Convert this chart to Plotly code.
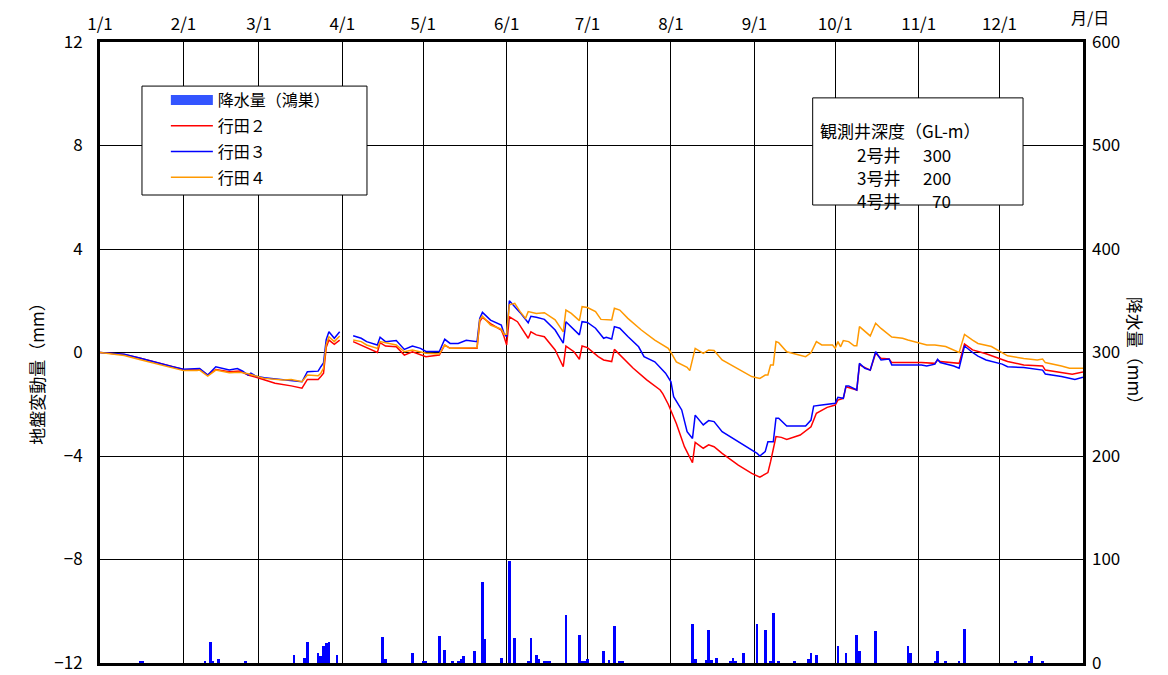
import plotly.graph_objects as go

# day of year (0 = 1/1); None marks the break in the record around 4/1
red_days = [0, 5, 9, 15, 21, 27, 31, 36, 37, 40, 43, 48, 52, 55, 58, 61, 65, 71, 75, 77,
            81, 82, 83, 84, 85, 87, 89, None, 94, 97, 99, 103, 104, 106, 110, 113, 116,
            121, 126, 128, 130, 140, 141, 142, 145, 149, 150, 151, 152, 155, 159, 160,
            162, 165, 169, 172, 173, 176, 178, 179, 181, 185, 187, 190, 191, 193, 198,
            203, 208, 209, 211, 214, 217, 220, 221, 224, 226, 228, 231, 237, 242, 245,
            248, 249, 251, 253, 255, 260, 264, 266, 270, 273, 274, 276, 277, 281, 282,
            286, 288, 290, 293, 294, 305, 310, 311, 312, 319, 321, 324, 329, 335, 337,
            343, 350, 351, 357, 361, 365]
red_vals = [0.0, -0.05, -0.08, -0.22, -0.40, -0.55, -0.66, -0.68, -0.64, -0.87, -0.66,
            -0.74, -0.72, -0.87, -0.96, -1.06, -1.19, -1.29, -1.38, -1.04, -1.04, -0.93,
            -0.8, 0.2, 0.48, 0.32, 0.48, None, 0.42, 0.29, 0.2, 0.0, 0.38, 0.25, 0.22,
            -0.10, 0.03, -0.16, -0.10, 0.29, 0.16, 0.16, 1.19, 1.36, 1.12, 0.87, 0.62,
            0.29, 1.38, 1.19, 0.55, 0.80, 0.68, 0.61, 0.10, -0.55, 0.25, 0.03, -0.26,
            0.25, 0.19, -0.16, -0.29, -0.35, 0.12, -0.10, -0.61, -1.06, -1.45, -1.6,
            -2.0, -2.74, -3.64, -4.26, -3.47, -3.70, -3.57, -3.64, -3.90, -4.35, -4.67,
            -4.82, -4.64, -4.22, -3.25, -3.28, -3.36, -3.19, -2.87, -2.35, -2.12, -2.03,
            -1.84, -1.77, -1.32, -1.45, -0.48, -0.68, -0.03, -0.22, -0.25, -0.39, -0.39,
            -0.42, -0.29, -0.35, -0.42, 0.33, 0.10, -0.05, -0.29, -0.35, -0.48, -0.52,
            -0.68, -0.78, -0.84, -0.75]

blue_days = [0, 5, 9, 15, 21, 27, 31, 36, 37, 40, 43, 48, 51, 53, 55, 56, 58, 61, 68, 75,
             77, 81, 82, 83, 84, 85, 87, 89, None, 94, 97, 99, 103, 104, 106, 110, 113,
             116, 119, 121, 126, 128, 130, 133, 136, 140, 141, 142, 145, 149, 150, 151,
             152, 154, 156, 159, 160, 162, 165, 169, 172, 173, 175, 178, 179, 181, 184,
             187, 188, 190, 191, 193, 196, 200, 202, 206, 210, 212, 213, 216, 218, 220,
             221, 224, 226, 228, 231, 237, 241, 244, 245, 247, 248, 250, 251, 252, 255,
             262, 264, 265, 268, 273, 274, 276, 277, 278, 281, 282, 284, 286, 288, 290,
             293, 294, 305, 307, 310, 311, 312, 317, 319, 321, 324, 326, 329, 335, 337,
             343, 350, 351, 357, 362, 365]
blue_vals = [0.0, -0.03, -0.07, -0.22, -0.40, -0.55, -0.65, -0.61, -0.62, -0.87, -0.55,
             -0.68, -0.62, -0.72, -0.87, -0.80, -0.92, -0.98, -1.05, -1.13, -0.74, -0.72,
             -0.55, -0.40, 0.5, 0.80, 0.55, 0.80, None, 0.65, 0.55, 0.42, 0.29, 0.59,
             0.42, 0.46, 0.12, 0.25, 0.16, 0.04, 0.04, 0.51, 0.35, 0.35, 0.47, 0.42,
             1.32, 1.55, 1.25, 1.06, 0.74, 0.61, 2.0, 1.77, 1.54, 1.15, 1.40, 1.36,
             1.28, 0.87, 0.36, 1.19, 1.0, 0.68, 1.19, 1.16, 0.94, 0.55, 0.59, 0.52, 1.0,
             0.94, 0.62, 0.22, -0.16, -0.36, -0.80, -1.13, -1.71, -2.22, -3.06, -3.32,
             -2.42, -2.80, -2.63, -2.67, -3.06, -3.45, -3.70, -3.90, -4.0, -3.83, -3.45,
             -3.45, -2.54, -2.54, -2.84, -2.84, -2.61, -2.07, -2.03, -1.96, -1.73, -1.77,
             -1.29, -1.29, -1.45, -0.42, -0.61, -0.68, 0.03, -0.29, -0.25, -0.48, -0.48,
             -0.52, -0.45, -0.26, -0.39, -0.52, -0.61, 0.25, 0.0, -0.14, -0.29, -0.45,
             -0.55, -0.58, -0.68, -0.83, -0.93, -1.04, -0.96]

orange_days = [0, 5, 9, 15, 21, 27, 31, 36, 37, 40, 43, 48, 52, 55, 58, 61, 68, 71, 75,
               77, 81, 82, 83, 84, 85, 87, 89, None, 94, 97, 99, 103, 104, 110, 113, 116,
               121, 126, 128, 130, 140, 141, 142, 145, 149, 150, 151, 152, 154, 156, 158,
               159, 162, 165, 169, 172, 173, 175, 178, 179, 181, 184, 186, 190, 191, 193,
               196, 201, 206, 211, 212, 214, 218, 219, 221, 224, 226, 228, 231, 238, 242,
               245, 247, 248, 249, 250, 251, 252, 255, 262, 264, 266, 268, 272, 273, 274,
               275, 276, 278, 280, 281, 282, 286, 288, 290, 294, 298, 300, 304, 307, 310,
               314, 319, 321, 324, 326, 331, 335, 337, 343, 348, 350, 351, 357, 360, 365]
orange_vals = [0.0, -0.06, -0.12, -0.28, -0.44, -0.60, -0.70, -0.70, -0.68, -0.91, -0.68,
               -0.78, -0.76, -0.82, -0.91, -1.0, -1.06, -1.04, -1.13, -0.87, -0.90, -0.80,
               -0.6, 0.3, 0.61, 0.42, 0.64, None, 0.48, 0.42, 0.29, 0.16, 0.42, 0.29,
               0.03, 0.10, -0.03, -0.06, 0.29, 0.16, 0.18, 1.26, 1.40, 1.06, 0.90, 0.71,
               0.71, 1.84, 1.90, 1.58, 1.32, 1.58, 1.51, 1.54, 1.26, 0.80, 1.64, 1.51,
               1.23, 1.77, 1.74, 1.58, 1.28, 1.26, 1.71, 1.64, 1.32, 0.87, 0.48, 0.16,
               0.0, -0.36, -0.57, -0.70, 0.16, -0.03, 0.10, 0.08, -0.29, -0.68, -0.93,
               -1.0, -0.87, -0.87, -0.48, -0.48, 0.42, 0.38, 0.03, -0.16, -0.01, 0.42,
               0.29, 0.29, 0.16, 0.42, 0.22, 0.46, 0.42, 0.26, 0.26, 1.0, 0.64, 1.13,
               0.93, 0.60, 0.55, 0.48, 0.38, 0.29, 0.29, 0.23, 0.0, 0.70, 0.48, 0.35,
               0.23, 0.0, -0.13, -0.23, -0.29, -0.25, -0.39, -0.52, -0.61, -0.61]

# daily precipitation at 鴻巣 (mm)
rain_days = [15, 16, 39, 41, 42, 44, 54, 72, 76, 77, 81, 82, 83, 84, 85, 88, 105, 106,
             116, 120, 121, 126, 128, 131, 133, 134, 135, 139, 142, 143, 149, 152, 154,
             159, 160, 162, 163, 165, 166, 167, 173, 178, 179, 180, 181, 187, 189, 191,
             193, 194, 220, 221, 225, 226, 227, 229, 234, 235, 236, 239, 244, 247, 249,
             250, 252, 258, 263, 264, 266, 274, 277, 281, 282, 288, 300, 301, 310, 311,
             314, 319, 321, 340, 345, 346, 350]
rain_mm = [1, 2, 1, 20, 1, 4, 2, 8, 5, 20, 10, 7, 16, 19, 20, 8, 25, 4,
           10, 1, 2, 26, 13, 1, 1, 4, 7, 12, 78, 23, 5, 99, 24,
           2, 24, 8, 4, 2, 2, 2, 46, 27, 1, 1, 4, 12, 3, 36,
           1, 1, 38, 4, 3, 32, 3, 5, 1, 5, 1, 10, 38, 32, 1,
           48, 1, 1, 4, 10, 8, 16, 10, 27, 12, 31, 16, 10, 1, 12,
           1, 1, 33, 1, 1, 7, 1]

month_days = [0, 31, 59, 90, 120, 151, 181, 212, 243, 273, 304, 334]
month_labels = ["1/1", "2/1", "3/1", "4/1", "5/1", "6/1", "7/1", "8/1", "9/1",
                "10/1", "11/1", "12/1"]

FONT = "Noto Sans CJK JP"

data = [
    go.Bar(x=rain_days, y=rain_mm, yaxis="y2", width=1, showlegend=False,
           marker=dict(color="#0000ff", line=dict(width=0))),
    # legend entry for the precipitation bars (wide swatch like the original)
    go.Scatter(name="降水量（鴻巣）", x=[None], y=[None], mode="lines",
               line=dict(color="#3355ff", width=10), legendgroup="a"),
    go.Scatter(name="行田２", x=red_days, y=red_vals, mode="lines",
               line=dict(color="#ff0000", width=1.5), legendgroup="b"),
    go.Scatter(name="行田３", x=blue_days, y=blue_vals, mode="lines",
               line=dict(color="#0000ff", width=1.5), legendgroup="c"),
    go.Scatter(name="行田４", x=orange_days, y=orange_vals, mode="lines",
               line=dict(color="#ff9900", width=1.5), legendgroup="d"),
]

axis_common = dict(
    showline=True,
    linecolor="black",
    linewidth=3,
    mirror=True,
    showgrid=True,
    gridcolor="black",
    gridwidth=1,
    zeroline=False,
    ticks="",
    automargin=False,
    ticklabeloverflow="allow",
    tickfont=dict(size=17, color="black", family=FONT),
)

layout = go.Layout(
    width=1168,
    height=675,
    margin=dict(l=100, r=85, t=42, b=12),
    plot_bgcolor="white",
    paper_bgcolor="white",
    font=dict(family=FONT, color="black", size=16),
    showlegend=True,
    bargap=0,
    xaxis=dict(
        range=[0, 365],
        side="top",
        tickvals=month_days,
        ticktext=month_labels,
        ticklabelstandoff=2,
        **axis_common,
    ),
    yaxis=dict(
        range=[-12, 12],
        tickvals=[-12, -8, -4, 0, 4, 8, 12],
        ticklabelstandoff=11,
        **axis_common,
    ),
    yaxis2=dict(
        overlaying="y",
        side="right",
        range=[0, 600],
        dtick=100,
        showgrid=False,
        zeroline=False,
        ticks="",
        automargin=False,
        ticklabeloverflow="allow",
        ticklabelstandoff=8,
        tickfont=dict(size=17, color="black", family=FONT),
    ),
    legend=dict(
        x=0.067,
        y=0.934,
        xanchor="left",
        yanchor="top",
        bgcolor="rgba(0,0,0,0)",
        borderwidth=0,
        itemwidth=42,
        traceorder="grouped",
        tracegroupgap=2,
        font=dict(size=16, color="black", family=FONT),
    ),
    shapes=[
        # legend frame
        dict(type="rect", xref="paper", yref="paper", x0=0.0427, x1=0.2716,
             y0=0.7536, y1=0.929, line=dict(color="black", width=1),
             fillcolor="white", layer="above"),
        # well depth box
        dict(type="rect", xref="paper", yref="paper", x0=0.725, x1=0.939,
             y0=0.7375, y1=0.910, line=dict(color="black", width=1),
             fillcolor="white", layer="above"),
    ],
    annotations=[
        dict(text="地盤変動量（mm）", xref="paper", yref="paper", x=-0.079, y=0.472,
             textangle=-90, showarrow=False, font=dict(size=17)),
        dict(text="降水量（mm）", xref="paper", yref="paper", x=1.068, y=0.496,
             textangle=90, showarrow=False, font=dict(size=17)),
        dict(text="月/日", xref="paper", yref="paper", x=1.0075, y=1.040,
             xanchor="center", yanchor="middle", showarrow=False, font=dict(size=16)),
        dict(text="観測井深度（GL-m）", xref="paper", yref="paper", x=0.730, y=0.881,
             xanchor="left", showarrow=False, font=dict(size=17)),
        dict(text="2号井", xref="paper", yref="paper", x=0.768, y=0.842,
             xanchor="left", showarrow=False, font=dict(size=17)),
        dict(text="300", xref="paper", yref="paper", x=0.868, y=0.842,
             xanchor="right", showarrow=False, font=dict(size=17)),
        dict(text="3号井", xref="paper", yref="paper", x=0.768, y=0.805,
             xanchor="left", showarrow=False, font=dict(size=17)),
        dict(text="200", xref="paper", yref="paper", x=0.868, y=0.805,
             xanchor="right", showarrow=False, font=dict(size=17)),
        dict(text="4号井", xref="paper", yref="paper", x=0.768, y=0.768,
             xanchor="left", showarrow=False, font=dict(size=17)),
        dict(text="70", xref="paper", yref="paper", x=0.868, y=0.768,
             xanchor="right", showarrow=False, font=dict(size=17)),
    ],
)

fig = go.Figure(data=data, layout=layout)
# drop the page's default body margin so the 1168x675 figure fills the window
fig.write_html(
    "out.html",
    config={"displayModeBar": False},
    post_script="document.body.style.margin = '0';",
)
